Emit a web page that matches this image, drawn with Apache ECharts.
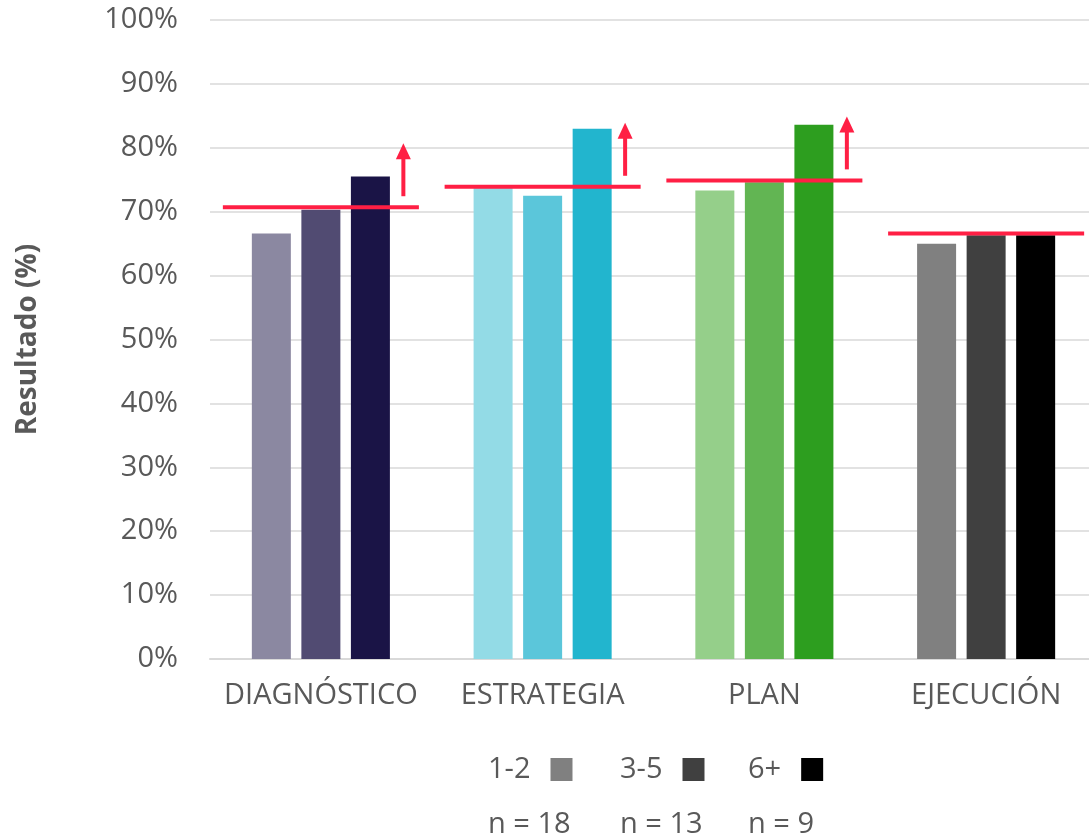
<!DOCTYPE html>
<html>
<head>
<meta charset="utf-8">
<script src="https://cdn.jsdelivr.net/npm/echarts@6/dist/echarts.min.js"></script>
<style>
  html, body { margin: 0; padding: 0; background: #ffffff; }
  #chart { width: 1089px; height: 840px; }
</style>
</head>
<body>
<div id="chart"></div>
<script>
// Stages evaluated
const categories = ['DIAGNÓSTICO', 'ESTRATEGIA', 'PLAN', 'EJECUCIÓN'];

// Groups by number of years (legend) and sample sizes
const groupNames = ['1-2', '3-5', '6+'];
const nCounts = [18, 13, 9];

// Result (%) per stage for each group
const values12 = [66.6, 73.7, 73.3, 65.0];
const values35 = [70.3, 72.5, 74.6, 66.3];
const values6p = [75.5, 83.0, 83.6, 66.3];

// Reference level per stage and whether an improvement arrow is shown
const referenceLevel = [70.7, 73.9, 74.9, 66.6];
const showArrow = [1, 1, 1, 0];

// Y axis ticks
const yMin = 0, yMax = 100, yStep = 10;

// Colours: one palette per stage (light, medium, dark)
const stageColors = [
  ['#8b88a1', '#514b72', '#1a1446'],
  ['#93dbe6', '#5bc6da', '#22b5ce'],
  ['#95cf8a', '#62b553', '#2d9e1f'],
  ['#808080', '#404040', '#000000']
];
const legendColors = ['#808080', '#404040', '#000000'];
const textColor = '#595959';
const redColor = '#ff1f44';
const fontFamily = '"Open Sans", "Noto Sans", sans-serif';

// Left edge of each legend column (label, swatch and sample size below)
const legendColumnsX = [488, 620, 748];

const seriesValues = [values12, values35, values6p];

const barSeries = groupNames.map((name, g) => ({
  name: name,
  type: 'bar',
  barWidth: 39,
  barGap: '27%',
  itemStyle: { color: legendColors[g] },
  data: seriesValues[g].map((v, c) => ({ value: v, itemStyle: { color: stageColors[c][g] } })),
  z: 2
}));

const refData = categories.map((c, i) => [i, referenceLevel[i], showArrow[i]]);

const refSeries = {
  type: 'custom',
  name: 'referencia',
  data: refData,
  encode: { x: 0, y: 1 },
  z: 5,
  silent: true,
  renderItem: function (params, api) {
    const p = api.coord([api.value(0), api.value(1)]);
    const band = api.size([1, 0])[0];
    const half = band * 0.442;
    const children = [{
      type: 'line',
      shape: { x1: p[0] - half, y1: p[1], x2: p[0] + half, y2: p[1] },
      style: { stroke: redColor, lineWidth: 4 }
    }];
    if (api.value(2)) {
      const ax = p[0] + band * 0.372;
      const tip = p[1] - 64;
      children.push({
        type: 'line',
        shape: { x1: ax, y1: p[1] - 11, x2: ax, y2: tip + 12 },
        style: { stroke: redColor, lineWidth: 4 }
      });
      children.push({
        type: 'polygon',
        shape: { points: [[ax - 7.5, tip + 16], [ax + 7.5, tip + 16], [ax, tip]] },
        style: { fill: redColor }
      });
    }
    return { type: 'group', children: children };
  }
};

// One legend per group so each column sits above its sample size
const legends = groupNames.map((name, i) => ({
  data: [name],
  left: legendColumnsX[i],
  top: 755,
  padding: 0,
  align: 'right',
  icon: 'rect',
  itemWidth: 22,
  itemHeight: 23,
  textStyle: { fontSize: 29, color: textColor, fontFamily: fontFamily, padding: [0, 15, 0, 0] },
  selectedMode: false
}));

const chart = echarts.init(document.getElementById('chart'), null, { renderer: 'canvas' });

chart.setOption({
  backgroundColor: '#ffffff',
  animation: false,
  textStyle: { fontFamily: fontFamily },
  grid: { left: 210, top: 20, width: 887, height: 639, containLabel: false, outerBoundsMode: 'none' },
  legend: legends,
  xAxis: {
    type: 'category',
    data: categories,
    axisTick: { show: false },
    axisLine: { show: true, lineStyle: { color: '#d9d9d9', width: 2 } },
    axisLabel: { interval: 0, fontSize: 29, color: textColor, margin: 22, fontFamily: fontFamily }
  },
  yAxis: {
    type: 'value',
    min: yMin,
    max: yMax,
    interval: yStep,
    name: 'Resultado (%)',
    nameLocation: 'middle',
    nameGap: 168,
    nameTextStyle: { fontSize: 28, fontWeight: 'bold', color: textColor, fontFamily: fontFamily },
    axisLine: { show: false },
    axisTick: { show: false },
    axisLabel: { formatter: '{value}%', fontSize: 29, color: textColor, margin: 32, fontFamily: fontFamily },
    splitLine: { lineStyle: { color: '#d9d9d9', width: 1.5 } }
  },
  graphic: nCounts.map((n, i) => ({
    type: 'text',
    left: legendColumnsX[i],
    top: 810,
    style: { text: 'n = ' + n, fontSize: 29, fill: textColor, fontFamily: fontFamily }
  })),
  series: barSeries.concat([refSeries])
});
</script>
</body>
</html>
